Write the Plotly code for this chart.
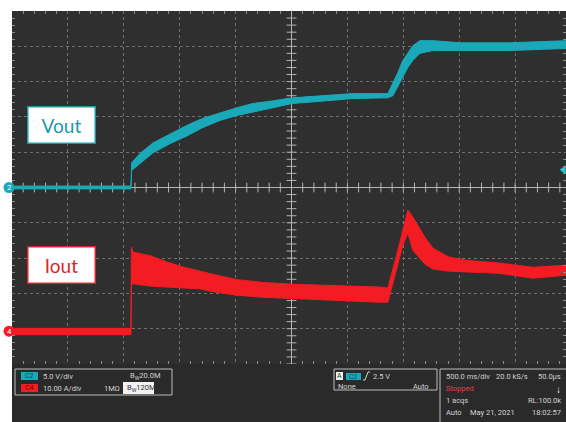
import numpy as np
import plotly.graph_objects as go

# ---------------- data ----------------
time_per_div = 0.5      # s/div  (500.0 ms/div)
vout_scale = 5.0        # V/div  (C2)
iout_scale = 10.0       # A/div  (C4)
vout_offset = 0.0       # div
iout_offset = -4.07     # div
trigger_level = 2.5     # V on C2

# Vout noise envelope (time in s, volts)
vout_t = [-2.5, -1.436, -1.43, -1.356, -1.24, -1.088, -0.936, -0.792, -0.64, -0.488,
          -0.345, -0.193, 0.004, 0.254, 0.549, 0.862, 0.907, 0.952, 0.996, 1.041,
          1.086, 1.149, 1.265, 1.507, 1.954, 2.47]
vout_lo = [-0.2, -0.2, 2.4, 3.4, 4.9, 6.2, 7.3, 8.5, 9.5, 10.2,
           10.7, 11.2, 11.9, 12.2, 12.6, 12.7, 13.0, 14.2, 15.6, 17.0,
           18.0, 19.0, 19.4, 19.4, 19.4, 19.7]
vout_hi = [0.2, 0.2, 3.5, 4.8, 6.3, 7.6, 8.8, 9.8, 10.6, 11.3,
           11.9, 12.2, 12.7, 13.0, 13.3, 13.3, 14.7, 16.3, 18.0, 19.1,
           20.1, 20.8, 20.8, 20.5, 20.5, 20.8]

# Iout noise envelope (time in s, amps)
iout_t = [-2.5, -1.436, -1.432, -1.418, -1.267, -1.115, -0.972, -0.820, -0.703, -0.488,
          -0.256, 0.013, 0.343, 0.791, 0.862, 0.907, 0.952, 0.996, 1.041, 1.086,
          1.193, 1.265, 1.408, 1.56, 1.855, 2.16, 2.47]
iout_lo = [-1.0, -1.0, 13.5, 13.4, 12.8, 12.5, 12.2, 12.0, 11.2, 10.2,
           9.6, 9.3, 8.8, 8.2, 8.2, 13.6, 19.0, 24.4, 27.8, 22.9,
           19.0, 17.6, 17.0, 16.7, 16.4, 15.0, 15.9]
iout_hi = [0.8, 0.8, 23.8, 22.4, 21.4, 19.6, 18.2, 16.9, 16.1, 14.6,
           13.8, 13.3, 13.0, 12.5, 12.2, 17.3, 23.0, 28.6, 34.3, 32.3,
           26.6, 23.5, 21.0, 20.1, 19.3, 18.1, 18.7]

# ---------------- layout geometry ----------------
W, H = 566, 422
ML, MR, MT, MB = 12, 0, 11, 58
PW, PH = W - ML - MR, H - MT - MB
DIV_PX = 55.9
x_min = -5 * time_per_div
x_max = x_min + PW / DIV_PX * time_per_div

VCOL = "#19a9b9"
ICOL = "#f31c22"
TXT = "#d2d2d2"
FONT = "Roboto"
FS = 7.5


def px(x):
    return (x - ML) / PW


def py(y):
    return 1 - (y - MT) / PH


def band(t, lo, hi, scale, offset):
    xs = list(t) + list(t)[::-1]
    ys = [v / scale + offset for v in hi] + [v / scale + offset for v in lo][::-1]
    return xs, ys


fig = go.Figure()

# graticule centre-line tick marks
xt = np.arange(-2.5, x_max, 0.1)
yt = np.arange(-5, 5.001, 0.2)
fig.add_trace(go.Scatter(x=xt, y=[0] * len(xt), mode="markers", hoverinfo="skip",
                         marker=dict(symbol="line-ns", size=7,
                                     line=dict(color="#b4b4b4", width=1))))
fig.add_trace(go.Scatter(x=[0] * len(yt), y=yt, mode="markers", hoverinfo="skip",
                         marker=dict(symbol="line-ew", size=7,
                                     line=dict(color="#b4b4b4", width=1))))

# waveforms
vx, vy = band(vout_t, vout_lo, vout_hi, vout_scale, vout_offset)
fig.add_trace(go.Scatter(x=vx, y=vy, mode="lines", fill="toself", fillcolor=VCOL,
                         line=dict(color=VCOL, width=1), hoverinfo="skip", name="Vout"))
ix, iy = band(iout_t, iout_lo, iout_hi, iout_scale, iout_offset)
fig.add_trace(go.Scatter(x=ix, y=iy, mode="lines", fill="toself", fillcolor=ICOL,
                         line=dict(color=ICOL, width=1), hoverinfo="skip", name="Iout"))

# trigger level marker on right edge
fig.add_trace(go.Scatter(x=[x_max - 0.02], y=[trigger_level / vout_scale + vout_offset],
                         mode="markers", cliponaxis=False, hoverinfo="skip",
                         marker=dict(symbol="triangle-left", size=8, color="#2cc6d4")))

shapes = []
annotations = []


def rect(x0, y0, x1, y1, fill=None, line=None, width=1):
    shapes.append(dict(type="rect", xref="paper", yref="paper",
                       x0=px(x0), x1=px(x1), y0=py(y1), y1=py(y0),
                       fillcolor=fill if fill else "rgba(0,0,0,0)",
                       line=dict(color=line if line else "rgba(0,0,0,0)", width=width),
                       layer="above"))


def text(x, y, s, color=TXT, size=FS, anchor="left"):
    annotations.append(dict(xref="paper", yref="paper", x=px(x), y=py(y), text=s,
                            showarrow=False, xanchor=anchor, yanchor="middle",
                            font=dict(family=FONT, size=size, color=color)))


# bottom dark panel and white margins
rect(0, 364, 566, 422, fill="#2a2a2a")
rect(0, 0, 12, 422, fill="#ffffff")
rect(0, 0, 566, 11, fill="#ffffff")

# channel box
rect(15, 369, 172, 395, line="#bdbdbd")
rect(21, 372, 38, 380, fill=VCOL)
text(29.5, 376, "C2", color="#0b4f57", size=7, anchor="center")
text(41, 376, "5.0 V/div")
text(128, 376, "B<sub>W</sub>20.0M")
rect(21, 384, 38, 392, fill=ICOL)
text(29.5, 388, "C4", color="#5a0b0e", size=7, anchor="center")
text(41, 388, "10.00 A/div")
text(102, 388, "1MΩ")
rect(123, 382, 154, 394, fill="#f2f2f2")
text(124.5, 388, "B<sub>W</sub>120M", color="#333333")

# trigger box
rect(334, 369, 437, 390, line="#bdbdbd")
rect(336, 372, 343, 380, fill="#f2f2f2")
text(339.5, 376, "A", color="#333333", size=7, anchor="center")
rect(346, 373, 361, 380, fill=VCOL)
text(353.5, 376.5, "C2", color="#0b4f57", size=7, anchor="center")
shapes.append(dict(type="path", xref="paper", yref="paper", layer="above",
                   path="M {},{} L {},{} L {},{} L {},{}".format(
                       px(363), py(380), px(365), py(380), px(368), py(372), px(370), py(372)),
                   line=dict(color=TXT, width=1)))
text(371, 376, "2.5 V")
text(336, 386, "None")
text(411, 386, "Auto")

# acquisition box
rect(440, 369, 575, 430, line="#bdbdbd")
text(444, 376, "500.0 ms/div")
text(494, 376, "20.0 kS/s")
text(563, 376, "50.0μs", anchor="right")
text(444, 388, "Stopped", color="#e2404a")
text(563, 389, "↓", anchor="right", size=10, color="#e8e8e8")
text(444, 400, "1 acqs")
text(563, 400, "RL:100.0k", anchor="right")
text(444, 412, "Auto")
text(468, 412, "May 21, 2021")
text(563, 412, "18:02:57", anchor="right")

# channel ground markers
for off, col, lab in [(vout_offset, VCOL, "2"), (iout_offset, ICOL, "4")]:
    shapes.append(dict(type="circle", xref="paper", yref="y", layer="above",
                       xsizemode="pixel", ysizemode="pixel",
                       xanchor=px(9), yanchor=off, x0=-5.5, x1=5.5, y0=-5.5, y1=5.5,
                       fillcolor=col, line=dict(color=col, width=0)))
    annotations.append(dict(xref="paper", yref="y", x=px(9), y=off, text=lab,
                            showarrow=False, xanchor="center", yanchor="middle",
                            font=dict(family=FONT, size=8, color="white")))

# trace labels
for lab, col, cy in [("Vout", "#1a9aa8", 124.5), ("Iout", "#d8262e", 264.5)]:
    annotations.append(dict(xref="paper", yref="paper", x=px(61.5), y=py(cy), text=lab,
                            showarrow=False, xanchor="center", yanchor="middle",
                            width=64, height=33, borderpad=1, borderwidth=1.5,
                            bgcolor="white", bordercolor=col,
                            font=dict(family="Lato", size=19, color=col)))

axis_common = dict(showgrid=True, gridcolor="#707070", griddash="dot", gridwidth=1,
                   showticklabels=False, ticks="", zeroline=True, zerolinecolor="#b4b4b4",
                   zerolinewidth=1, showline=True, linecolor="#8c8c8c", mirror="allticks",
                   fixedrange=True)

fig.update_layout(
    width=W, height=H,
    margin=dict(l=ML, r=MR, t=MT, b=MB, pad=0),
    paper_bgcolor="#ffffff", plot_bgcolor="#2f2f2f",
    showlegend=False,
    xaxis=dict(range=[x_min, x_max], tick0=0, dtick=time_per_div,
               minor=dict(ticks="inside", dtick=time_per_div / 5, tick0=0, ticklen=3,
                          tickcolor="#8c8c8c", showgrid=False),
               **axis_common),
    yaxis=dict(range=[-5, 5], tick0=0, dtick=1,
               minor=dict(ticks="inside", dtick=0.2, tick0=0, ticklen=3,
                          tickcolor="#8c8c8c", showgrid=False),
               **axis_common),
    shapes=shapes, annotations=annotations,
)

fig.write_html("out.html", config={"staticPlot": True},
               post_script="document.body.style.margin='0px';"
                           "document.body.style.overflow='hidden';")
